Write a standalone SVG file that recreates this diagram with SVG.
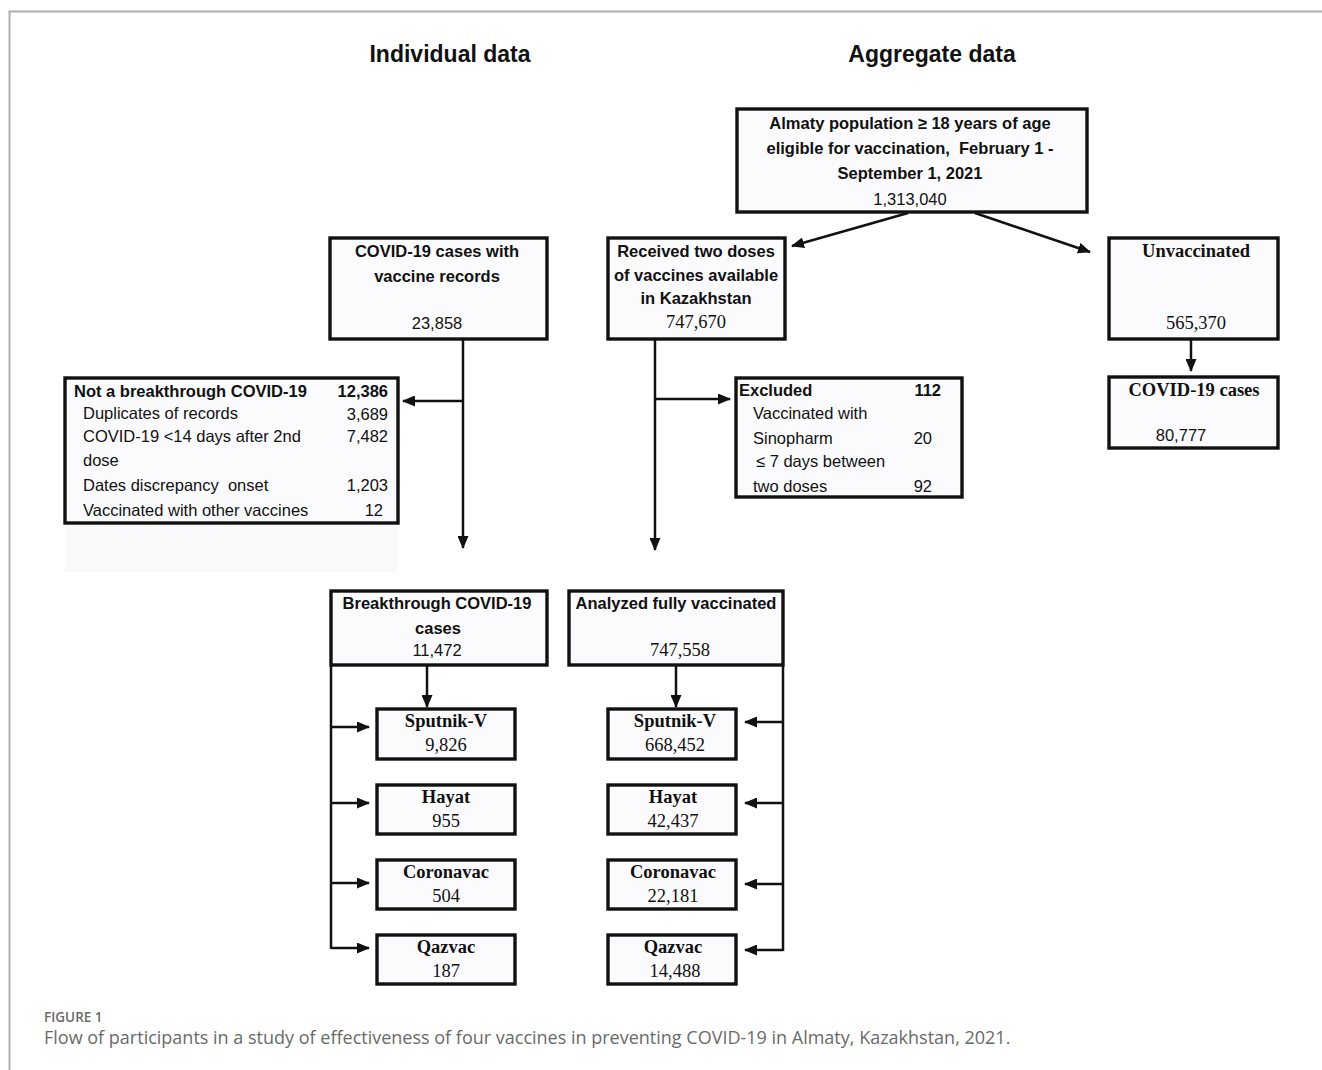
<svg xmlns="http://www.w3.org/2000/svg" width="1322" height="1070" viewBox="0 0 1322 1070">
<defs>
<marker id="ah" viewBox="0 0 13 11" refX="12" refY="5.5" markerWidth="13" markerHeight="11" markerUnits="userSpaceOnUse" orient="auto">
<path d="M0,0 L13,5.5 L0,11 z" fill="#111"/>
</marker>
<style>
.box{fill:#fbfbfd;stroke:#111;stroke-width:3.4}
.ln{fill:none;stroke:#111;stroke-width:2.5}
.arr{fill:none;stroke:#111;stroke-width:2.5;marker-end:url(#ah)}
.sb{font-family:"Liberation Sans",Arial,sans-serif;font-weight:bold;font-size:16.5px;fill:#111}
.sr{font-family:"Liberation Sans",Arial,sans-serif;font-size:16.5px;fill:#111}
.tb{font-family:"Liberation Serif","Times New Roman",serif;font-weight:bold;font-size:18.5px;fill:#111}
.tr{font-family:"Liberation Serif","Times New Roman",serif;font-size:18.5px;fill:#111}
.c{text-anchor:middle}
.e{text-anchor:end}
.pre{white-space:pre}
.hd{font-family:"Liberation Sans",Arial,sans-serif;font-weight:bold;font-size:23px;fill:#111;text-anchor:middle}
.cap{font-family:"Open Sans","Liberation Sans",sans-serif;fill:#6a6a6a}
</style>
</defs>
<rect x="0" y="0" width="1322" height="1070" fill="#ffffff"/>
<path d="M9.5,1070 V11.5 H1322" fill="none" stroke="#b0b0b0" stroke-width="2"/>

<g id="headings">
<text class="hd" x="450" y="62">Individual data</text>
<text class="hd" x="932" y="62">Aggregate data</text>
</g>

<g id="connectors">
<line class="arr" x1="908" y1="213" x2="792" y2="246"/>
<line class="arr" x1="975" y1="213" x2="1090" y2="252"/>
<line class="arr" x1="463" y1="340" x2="463" y2="548"/>
<line class="arr" x1="463" y1="401" x2="403" y2="401"/>
<line class="arr" x1="655" y1="340" x2="655" y2="550"/>
<line class="arr" x1="655" y1="399" x2="730" y2="399"/>
<line class="arr" x1="1191" y1="340" x2="1191" y2="371"/>
<line class="arr" x1="427" y1="666" x2="427" y2="707"/>
<line class="arr" x1="676" y1="666" x2="676" y2="707"/>
<line class="ln" x1="331" y1="666" x2="331" y2="949"/>
<line class="arr" x1="331" y1="727" x2="369" y2="727"/>
<line class="arr" x1="331" y1="803" x2="369" y2="803"/>
<line class="arr" x1="331" y1="883" x2="369" y2="883"/>
<line class="arr" x1="331" y1="948" x2="369" y2="948"/>
<line class="ln" x1="783" y1="666" x2="783" y2="951"/>
<line class="arr" x1="783" y1="722" x2="745" y2="722"/>
<line class="arr" x1="783" y1="803" x2="745" y2="803"/>
<line class="arr" x1="783" y1="884" x2="745" y2="884"/>
<line class="arr" x1="783" y1="950" x2="745" y2="950"/>
</g>

<g id="population">
<rect class="box" x="737" y="109" width="350" height="103"/>
<text class="sb c" x="910" y="129">Almaty population ≥ 18 years of age</text>
<text class="sb c pre" x="910" y="154">eligible for vaccination,  February 1 -</text>
<text class="sb c" x="910" y="179">September 1, 2021</text>
<text class="sr c" x="910" y="205">1,313,040</text>
</g>

<g id="covid-records">
<rect class="box" x="330" y="238" width="217" height="101"/>
<text class="sb c" x="437" y="257">COVID-19 cases with</text>
<text class="sb c" x="437" y="282">vaccine records</text>
<text class="sr c" x="437" y="329">23,858</text>
</g>

<g id="received">
<rect class="box" x="608" y="238" width="177" height="101"/>
<text class="sb c" x="696" y="257">Received two doses</text>
<text class="sb c" x="696" y="281">of vaccines available</text>
<text class="sb c" x="696" y="304">in Kazakhstan</text>
<text class="tr c" x="696" y="328">747,670</text>
</g>

<g id="unvaccinated">
<rect class="box" x="1109" y="238" width="169" height="101"/>
<text class="tb c" x="1196" y="257">Unvaccinated</text>
<text class="tr c" x="1196" y="329">565,370</text>
</g>

<g id="covid-cases-unvacc">
<rect class="box" x="1109" y="377" width="169" height="71"/>
<text class="tb c" x="1194" y="396">COVID-19 cases</text>
<text class="sr c" x="1181" y="441">80,777</text>
</g>

<g id="not-breakthrough">
<rect x="65" y="524" width="333" height="48" fill="#f9f9fc"/>
<rect class="box" x="65" y="378" width="333" height="145"/>
<text class="sb" x="74" y="397">Not a breakthrough COVID-19</text>
<text class="sb e" x="388" y="397">12,386</text>
<text class="sr" x="83" y="419">Duplicates of records</text>
<text class="sr e" x="388" y="420">3,689</text>
<text class="sr" x="83" y="442">COVID-19 &lt;14 days after 2nd</text>
<text class="sr e" x="388" y="442">7,482</text>
<text class="sr" x="83" y="466">dose</text>
<text class="sr pre" x="83" y="491">Dates discrepancy  onset</text>
<text class="sr e" x="388" y="491">1,203</text>
<text class="sr" x="83" y="516">Vaccinated with other vaccines</text>
<text class="sr e" x="383" y="516">12</text>
</g>

<g id="excluded">
<rect class="box" x="736" y="378" width="226" height="119"/>
<text class="sb" x="739" y="396">Excluded</text>
<text class="sb e" x="941" y="396">112</text>
<text class="sr" x="753" y="419">Vaccinated with</text>
<text class="sr" x="753" y="444">Sinopharm</text>
<text class="sr e" x="932" y="444">20</text>
<text class="sr" x="756" y="467">≤ 7 days between</text>
<text class="sr" x="753" y="492">two doses</text>
<text class="sr e" x="932" y="492">92</text>
</g>

<g id="breakthrough">
<rect class="box" x="331" y="591" width="216" height="74"/>
<text class="sb c" x="437" y="609">Breakthrough COVID-19</text>
<text class="sb c" x="438" y="634">cases</text>
<text class="sr c" x="437" y="656">11,472</text>
</g>

<g id="analyzed">
<rect class="box" x="569" y="591" width="214" height="74"/>
<text class="sb c" x="676" y="609">Analyzed fully vaccinated</text>
<text class="tr c" x="680" y="656">747,558</text>
</g>

<g id="ind-sputnik">
<rect class="box" x="377" y="709" width="138" height="50"/>
<text class="tb c" x="446" y="727">Sputnik-V</text>
<text class="tr c" x="446" y="751">9,826</text>
</g>
<g id="ind-hayat">
<rect class="box" x="377" y="785" width="138" height="49"/>
<text class="tb c" x="446" y="803">Hayat</text>
<text class="tr c" x="446" y="827">955</text>
</g>
<g id="ind-coronavac">
<rect class="box" x="377" y="860" width="138" height="49"/>
<text class="tb c" x="446" y="878">Coronavac</text>
<text class="tr c" x="446" y="902">504</text>
</g>
<g id="ind-qazvac">
<rect class="box" x="377" y="935" width="138" height="49"/>
<text class="tb c" x="446" y="953">Qazvac</text>
<text class="tr c" x="446" y="977">187</text>
</g>

<g id="agg-sputnik">
<rect class="box" x="608" y="709" width="128" height="50"/>
<text class="tb c" x="675" y="727">Sputnik-V</text>
<text class="tr c" x="675" y="751">668,452</text>
</g>
<g id="agg-hayat">
<rect class="box" x="608" y="785" width="128" height="49"/>
<text class="tb c" x="673" y="803">Hayat</text>
<text class="tr c" x="673" y="827">42,437</text>
</g>
<g id="agg-coronavac">
<rect class="box" x="608" y="860" width="128" height="49"/>
<text class="tb c" x="673" y="878">Coronavac</text>
<text class="tr c" x="673" y="902">22,181</text>
</g>
<g id="agg-qazvac">
<rect class="box" x="608" y="935" width="128" height="49"/>
<text class="tb c" x="673" y="953">Qazvac</text>
<text class="tr c" x="675" y="977">14,488</text>
</g>

<g id="caption">
<text class="cap" x="44" y="1022" font-size="13.5" font-weight="600">FIGURE 1</text>
<text class="cap" x="44" y="1044" font-size="18">Flow of participants in a study of effectiveness of four vaccines in preventing COVID-19 in Almaty, Kazakhstan, 2021.</text>
</g>
</svg>
